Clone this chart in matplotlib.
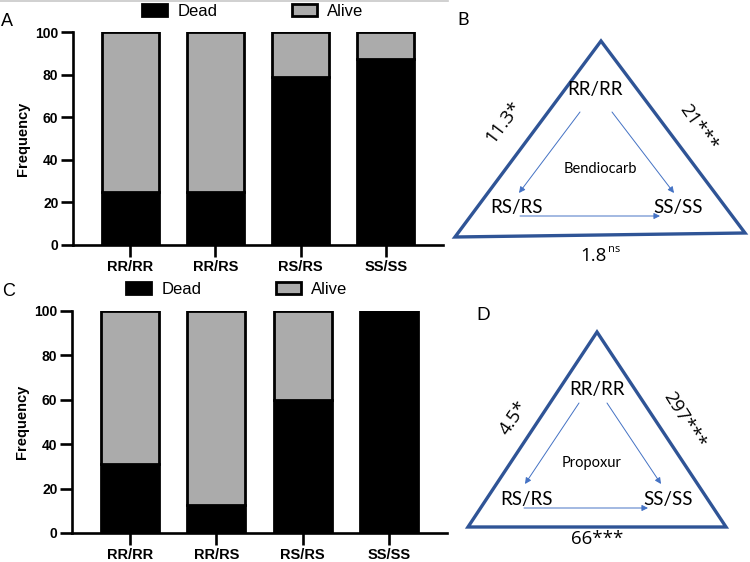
import numpy as np
import matplotlib
matplotlib.use("Agg")
import matplotlib.pyplot as plt
from matplotlib.patches import Patch, Polygon

plt.rcParams['font.family'] = ['Liberation Sans', 'DejaVu Sans']

genotypes = ["RR/RR", "RR/RS", "RS/RS", "SS/SS"]
dead_bendiocarb = [25, 25, 79, 87.5]
dead_propoxur = [31.3, 12.5, 60, 100]

tri_labels = ["RR/RR", "RS/RS", "SS/SS"]
bendiocarb_ratios = ["11.3*", "21***", "1.8"]
propoxur_ratios = ["4.5*", "297***", "66***"]

DEAD = "black"
ALIVE = "#ABABAB"
TRI = "#2F5496"
ARROW = "#4472C4"
TRI_FONT = ['Lato', 'DejaVu Sans']
NUM_FONT = ['Open Sans', 'DejaVu Sans']


def bar_panel(fig, rect, dead, legend_xy):
    ax = fig.add_axes(rect)
    x = np.arange(len(genotypes))
    alive = 100 - np.array(dead)
    ax.bar(x, dead, width=0.67, color=DEAD, edgecolor="black", linewidth=2)
    ax.bar(x, alive, bottom=dead, width=0.67, color=ALIVE, edgecolor="black", linewidth=2)
    ax.set_xlim(-0.67, 3.67)
    ax.set_ylim(0, 100)
    ax.set_yticks([0, 20, 40, 60, 80, 100])
    ax.set_xticks(x)
    ax.set_xticklabels(genotypes, fontsize=10.5, fontweight="bold")
    for t in ax.get_yticklabels():
        t.set_fontsize(10)
        t.set_fontweight("bold")
    ax.set_ylabel("Frequency", fontsize=10.5, fontweight="bold", labelpad=4)
    for s in ["top", "right"]:
        ax.spines[s].set_visible(False)
    for s in ["left", "bottom"]:
        ax.spines[s].set_linewidth(1.9)
    ax.tick_params(axis="both", width=1.9, length=8.5, pad=2)
    handles = [Patch(facecolor=DEAD, edgecolor="black", linewidth=2, label="Dead"),
               Patch(facecolor=ALIVE, edgecolor="black", linewidth=2, label="Alive")]
    fig.legend(handles=handles, loc="center", ncol=2, frameon=False,
               bbox_to_anchor=legend_xy, bbox_transform=fig.transFigure,
               fontsize=12, handlelength=1.5, handleheight=0.75,
               handletextpad=0.6, columnspacing=4.5, borderpad=0)
    return ax


def triangle(ax, verts, inner, ratios, drug, arrows, drug_xy, label_pos, angles):
    ax.add_patch(Polygon(verts, closed=True, fill=False, edgecolor=TRI,
                         linewidth=2.4, joinstyle="miter"))
    for (txt, (tx, ty)) in zip(tri_labels, inner):
        ax.text(tx, ty, txt, ha="center", va="center", fontsize=13.5, family=TRI_FONT)
    ax.text(drug_xy[0], drug_xy[1], drug, ha="center", va="center", fontsize=10.5, family=TRI_FONT)
    for (s, e) in arrows:
        ax.annotate("", xy=e, xytext=s,
                    arrowprops=dict(arrowstyle="-|>", color=ARROW, lw=0.7,
                                    mutation_scale=9, shrinkA=0, shrinkB=0))
    for i in range(2):
        ax.text(label_pos[i][0], label_pos[i][1], ratios[i], ha="center", va="center",
                rotation=angles[i], rotation_mode="anchor", fontsize=13.5, family=NUM_FONT)


fig = plt.figure(figsize=(7.5, 5.62), dpi=100)

bar_panel(fig, [73 / 750, 1 - 245 / 562, (443 - 73) / 750, (245 - 32) / 562],
          dead_bendiocarb, (253 / 750, 1 - 11 / 562))
bar_panel(fig, [72 / 750, 1 - 533 / 562, (447 - 72) / 750, (533 - 311) / 562],
          dead_propoxur, (237 / 750, 1 - 289 / 562))

ov = fig.add_axes([0, 0, 1, 1])
ov.set_xlim(0, 750)
ov.set_ylim(562, 0)
ov.axis("off")
ov.plot([0, 448], [1, 1], color="#C8C8C8", lw=1.2)

ov.text(7, 21, "A", ha="center", va="center", fontsize=13)
ov.text(9, 291, "C", ha="center", va="center", fontsize=13)
ov.text(463, 20, "B", ha="center", va="center", fontsize=13, family=TRI_FONT)
ov.text(483, 315, "D", ha="center", va="center", fontsize=13, family=TRI_FONT)

# panel B
triangle(ov, [(455, 237), (601, 41), (745, 233)],
         [(595, 90), (517, 208), (678, 208)], bendiocarb_ratios, "Bendiocarb",
         [((580, 112), (519, 193)), ((612, 112), (674, 193)), ((520, 216), (660, 216))],
         (600, 169), [(504, 122), (698, 128)], [53, -55])
ov.text(607, 256, bendiocarb_ratios[2], ha="right", va="center", fontsize=13.5, family=NUM_FONT)
ov.text(608, 250, "ns", ha="left", va="center", fontsize=8, family=NUM_FONT)

# panel D
triangle(ov, [(468, 527), (597, 332), (726, 527)],
         [(597, 390), (527, 500), (668, 500)], propoxur_ratios, "Propoxur",
         [((579, 403), (525, 484)), ((607, 403), (661, 484)), ((524, 508), (648, 508))],
         (592, 463), [(514, 418), (684, 420)], [56, -58])
ov.text(597, 539, propoxur_ratios[2], ha="center", va="center", fontsize=13.5, family=NUM_FONT)

fig.savefig("out.png", dpi=100)
